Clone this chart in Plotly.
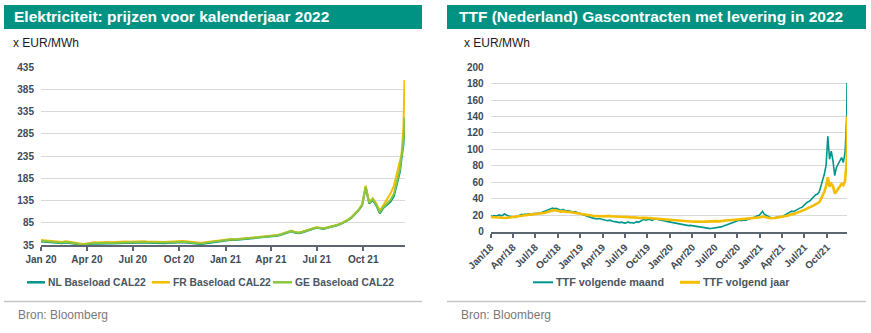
import pandas as pd
import plotly.graph_objects as go

W, H = 871, 333

# ---------------- Data: left chart (Elektriciteit CAL22, EUR/MWh) ----------------
elec_dates = [d.strftime("%Y-%m-%d") for d in pd.date_range("2020-01-01", periods=102, freq="7D")] + \
    ["2021-12-13", "2021-12-16", "2021-12-20", "2021-12-22"]

nl_cal22 = [
    43.0, 42.6, 41.8, 41.0, 40.2, 39.4, 39.0, 40.6, 40.0, 38.6, 37.2, 35.4, 34.6,
    36.0, 37.6, 38.2, 37.8, 38.4, 38.0, 38.6, 38.2, 38.8, 39.2, 39.0, 39.6, 39.4,
    40.0, 40.6, 41.0, 40.4, 39.8, 39.4, 39.8, 40.2, 39.6, 39.2, 39.6, 40.2, 40.8,
    41.2, 41.0, 40.4, 39.6, 38.4, 37.6, 37.2, 38.0, 39.2, 40.6, 41.8, 42.6, 43.4, 44.6,
    46.0, 46.8, 46.2, 47.0, 47.6, 48.8, 48.0, 49.2, 50.0, 50.6, 51.4, 52.6, 54.0,
    54.6, 55.8, 58.0, 60.4, 62.8, 66.0, 62.6, 61.4, 63.2, 65.6, 67.8, 70.2, 73.6,
    72.4, 71.2, 73.0, 74.6, 76.4, 79.2, 82.4, 86.0, 90.8, 96.4, 104.2, 112.6, 124.0,
    164.0, 128.0, 136.0, 124.0, 106.0, 118.0, 124.0, 132.0, 145.0, 176.0,
    200.0, 228.0, 262.0, 318.0,
]
fr_cal22 = [
    46.0, 45.4, 44.6, 43.8, 43.0, 42.0, 41.6, 43.2, 42.6, 41.0, 39.6, 37.8, 37.0,
    38.6, 40.4, 41.0, 40.8, 41.4, 41.2, 41.6, 41.2, 41.8, 42.2, 42.0, 42.6, 42.4,
    43.0, 43.6, 44.0, 43.4, 42.8, 42.4, 42.6, 43.0, 42.4, 42.0, 42.4, 43.2, 43.8,
    44.2, 44.0, 43.4, 42.6, 41.2, 40.2, 39.8, 40.6, 41.6, 42.8, 44.0, 44.6, 45.4, 46.4,
    47.6, 48.4, 47.8, 48.6, 49.2, 50.4, 49.6, 50.6, 51.4, 52.0, 52.8, 54.0, 55.4,
    56.0, 57.2, 59.4, 61.8, 64.2, 67.2, 64.0, 63.0, 64.8, 67.0, 69.2, 71.6, 75.0,
    73.8, 72.6, 74.4, 76.0, 77.8, 80.6, 83.8, 87.4, 92.2, 98.0, 106.0, 114.4, 126.2,
    168.0, 131.0, 140.0, 128.0, 112.0, 124.0, 138.0, 150.0, 168.0, 200.0,
    218.0, 238.0, 300.0, 406.0,
]
ge_cal22 = [
    44.5, 44.0, 43.2, 42.4, 41.6, 40.8, 40.2, 41.8, 41.2, 39.8, 38.4, 36.6, 35.8,
    37.2, 38.8, 39.4, 39.0, 39.6, 39.2, 39.8, 39.4, 40.0, 40.4, 40.2, 40.8, 40.6,
    41.2, 41.8, 42.2, 41.6, 41.0, 40.6, 41.0, 41.4, 40.8, 40.4, 40.8, 41.4, 42.0,
    42.4, 42.2, 41.6, 40.8, 39.6, 38.8, 38.4, 39.2, 40.4, 41.8, 43.0, 43.8, 44.6, 45.8,
    47.0, 47.8, 47.2, 48.0, 48.6, 49.8, 49.0, 50.2, 51.0, 51.6, 52.4, 53.6, 55.0,
    55.6, 56.8, 59.0, 61.4, 63.8, 67.0, 63.4, 62.4, 64.2, 66.4, 68.6, 71.0, 74.4,
    73.2, 72.0, 73.8, 75.4, 77.2, 80.0, 83.2, 86.8, 91.6, 97.2, 105.0, 113.4, 125.0,
    166.0, 130.0, 138.0, 126.0, 109.0, 120.0, 128.0, 136.0, 150.0, 182.0,
    206.0, 234.0, 270.0, 322.0,
]
elec_names = ["NL Baseload CAL22", "FR Baseload CAL22", "GE Baseload CAL22"]
elec_tickvals = ["2020-01-01", "2020-04-01", "2020-07-01", "2020-10-01",
                 "2021-01-01", "2021-04-01", "2021-07-01", "2021-10-01"]
elec_ticktext = ["Jan 20", "Apr 20", "Jul 20", "Oct 20", "Jan 21", "Apr 21", "Jul 21", "Oct 21"]
elec_yticks = [35, 85, 135, 185, 235, 285, 335, 385, 435]

# ---------------- Data: right chart (TTF gas, EUR/MWh) ----------------
ttf_dates = [d.strftime("%Y-%m-%d") for d in pd.date_range("2018-01-01", periods=208, freq="7D")] + ["2021-12-21"]

ttf_month = [
    # 2018
    19.0, 18.6, 19.4, 18.8, 19.6, 20.2, 19.1, 19.8, 21.5, 20.0, 19.2, 18.5, 18.1,
    17.8, 17.2, 18.0, 19.2, 20.1, 21.0, 20.4, 21.2, 20.8, 21.5, 21.0, 20.6, 21.8,
    22.0, 22.4, 21.8, 22.6, 23.4, 24.2, 25.0, 25.8, 26.5, 27.2, 28.6, 27.8, 28.2,
    27.5, 26.4, 25.6, 26.8, 25.2, 24.6, 25.4, 24.8, 24.0, 23.6, 24.2, 23.0, 22.6,
    # 2019
    21.8, 20.6, 20.0, 19.5, 19.0, 18.2, 17.2, 16.6, 16.0, 15.6, 15.2, 15.8, 15.4,
    14.6, 14.2, 13.6, 13.2, 13.8, 12.8, 12.4, 12.0, 11.6, 11.2, 10.8, 11.4, 10.6,
    10.2, 10.8, 11.6, 10.4, 11.0, 10.2, 11.4, 12.0, 11.2, 12.2, 13.6, 14.8, 13.8,
    14.2, 15.0, 14.4, 13.6, 14.8, 15.4, 14.6, 14.0, 13.8, 13.2, 12.6, 12.4, 12.0,
    # 2020
    11.6, 11.0, 10.4, 9.8, 9.6, 9.2, 8.8, 8.4, 8.6, 8.0, 7.6, 7.2, 7.4,
    7.0, 6.6, 6.2, 5.8, 5.4, 5.0, 4.8, 4.6, 4.2, 4.0, 3.8, 3.6, 3.9,
    4.2, 4.8, 4.4, 5.0, 5.6, 6.4, 7.2, 8.0, 9.0, 10.2, 11.0, 11.6, 12.2,
    12.8, 13.4, 13.8, 13.2, 14.0, 13.6, 14.2, 14.8, 15.6, 16.4, 17.2, 18.0, 19.2,
    # 2021
    19.6, 22.0, 24.6, 21.2, 19.8, 18.6, 17.6, 16.8, 16.2, 16.6, 17.2, 17.8, 18.2, 17.6,
    18.8, 19.6, 20.4, 21.8, 23.6, 24.8, 24.2, 25.6, 26.8, 27.6, 28.8, 29.6, 31.2,
    33.8, 35.6, 36.4, 38.2, 40.6, 42.4, 44.8, 45.6, 48.2, 55.4, 62.6, 70.2, 80.8,
    116.0, 88.0, 98.0, 86.0, 68.0, 78.0, 82.0, 86.0, 90.0, 84.0, 96.0, 140.0,
    181.0,
]
ttf_year = [
    # 2018
    17.6, 17.4, 17.8, 17.2, 17.0, 16.8, 16.4, 16.2, 16.6, 16.4, 16.8, 17.0, 17.2,
    17.4, 17.6, 18.0, 18.4, 18.8, 19.2, 19.6, 20.0, 20.4, 20.8, 21.0, 20.8, 21.2,
    21.4, 21.6, 21.4, 21.8, 22.2, 22.6, 23.2, 23.8, 24.4, 25.0, 25.8, 26.2, 25.6,
    25.2, 24.6, 24.2, 24.8, 24.2, 23.8, 24.0, 23.6, 23.2, 22.8, 22.6, 22.0, 21.6,
    # 2019
    21.2, 20.8, 20.6, 20.2, 20.0, 19.6, 19.2, 19.0, 18.8, 18.6, 18.8, 19.0, 18.8,
    18.6, 18.4, 18.8, 18.6, 19.0, 18.6, 18.4, 18.2, 18.0, 17.8, 18.2, 17.8, 17.6,
    17.6, 17.8, 17.4, 17.2, 17.0, 17.2, 16.8, 16.6, 16.8, 16.4, 16.6, 17.0, 16.8,
    16.6, 16.8, 16.4, 16.0, 16.2, 15.8, 15.6, 15.4, 15.2, 15.0, 14.8, 14.6, 14.4,
    # 2020
    14.2, 14.0, 13.6, 13.4, 13.2, 13.0, 12.8, 12.6, 12.8, 12.4, 12.2, 12.0, 12.2,
    12.0, 11.8, 12.0, 11.8, 11.6, 11.8, 12.0, 11.8, 12.0, 12.2, 12.0, 12.2, 12.4,
    12.2, 12.4, 12.6, 12.4, 12.8, 13.0, 13.2, 13.4, 13.6, 13.8, 14.0, 14.2, 14.4,
    14.6, 14.8, 14.6, 14.4, 14.8, 15.0, 15.2, 15.4, 15.6, 15.8, 16.0, 16.2, 16.4,
    # 2021
    16.8, 17.4, 18.2, 17.6, 17.2, 16.8, 16.4, 16.2, 16.0, 16.4, 16.8, 17.2, 17.4, 17.2,
    17.8, 18.2, 18.6, 19.4, 20.4, 21.2, 21.0, 21.8, 22.6, 23.2, 24.0, 24.6, 25.6,
    27.0, 28.2, 28.8, 29.6, 30.8, 32.2, 33.6, 34.2, 35.6, 39.4, 43.6, 48.8, 55.2,
    66.0, 54.6, 58.2, 55.0, 46.2, 48.8, 52.4, 55.6, 58.0, 56.4, 62.0, 86.0,
    140.0,
]
ttf_names = ["TTF volgende maand", "TTF volgend jaar"]
ttf_tickvals = [f"{y}-{m:02d}-01" for y in (2018, 2019, 2020, 2021) for m in (1, 4, 7, 10)]
ttf_ticktext = [f"{mn}/{str(y)[2:]}" for y in (2018, 2019, 2020, 2021) for mn in ("Jan", "Apr", "Jul", "Oct")]
ttf_yticks = list(range(0, 201, 20))

titles = ["Elektriciteit: prijzen voor kalenderjaar 2022",
          "TTF (Nederland) Gascontracten met levering in 2022"]
unit_label = "x EUR/MWh"
source_label = "Bron: Bloomberg"

# ---------------- Styling ----------------
TEAL = "#00968a"
YELLOW = "#f5bd00"
GREEN = "#8cc63f"
BAR = "#009383"
FONT = "Liberation Sans, Arial, sans-serif"
TICKCOL = "#3f4a54"
AXISCOL = "#5b6670"
GRIDCOL = "#d9d9d9"


def px(x):
    return x / W


def py(y):
    return 1 - y / H


fig = go.Figure()

elec_series = [nl_cal22, fr_cal22, ge_cal22]
elec_colors = [TEAL, YELLOW, GREEN]
for name, vals, col in zip(elec_names, elec_series, elec_colors):
    fig.add_trace(go.Scatter(x=elec_dates, y=vals, name=name, mode="lines",
                             line=dict(color=col, width=2), xaxis="x", yaxis="y",
                             showlegend=False))

ttf_series = [ttf_month, ttf_year]
ttf_colors = [TEAL, YELLOW]
ttf_widths = [1.6, 2.6]
for name, vals, col, w in zip(ttf_names, ttf_series, ttf_colors, ttf_widths):
    fig.add_trace(go.Scatter(x=ttf_dates, y=vals, name=name, mode="lines",
                             line=dict(color=col, width=w), xaxis="x2", yaxis="y2",
                             showlegend=False))

tickfont = dict(family=FONT, size=10, color=TICKCOL, weight="bold")

fig.update_layout(
    template=go.layout.Template(),
    width=W, height=H, margin=dict(l=0, r=0, t=0, b=0, pad=0),
    paper_bgcolor="white", plot_bgcolor="white",
    font=dict(family=FONT),
    xaxis=dict(domain=[px(41), px(405)], type="date",
               range=["2020-01-01", "2021-12-23"],
               tickvals=elec_tickvals, ticktext=elec_ticktext, automargin=False,
               showgrid=False, zeroline=False, showline=True, linecolor=AXISCOL, linewidth=2,
               ticks="outside", ticklen=4, tickwidth=1.5, tickcolor=AXISCOL,
               tickfont=tickfont, anchor="y", fixedrange=True),
    yaxis=dict(domain=[py(245), py(67)], range=[35, 435], tickvals=elec_yticks, automargin=False,
               showgrid=True, gridcolor=GRIDCOL, gridwidth=1, zeroline=False,
               showline=False, ticks="", tickfont=tickfont, ticklabelstandoff=6,
               anchor="x", fixedrange=True),
    xaxis2=dict(domain=[px(490.7), px(847)], type="date",
                range=["2018-01-01", "2021-12-21"], automargin=False,
                tickvals=ttf_tickvals, ticktext=ttf_ticktext, tickangle=-45,
                showgrid=False, zeroline=False, showline=True, linecolor=AXISCOL, linewidth=2,
                ticks="outside", ticklen=4, tickwidth=1.5, tickcolor=AXISCOL,
                tickfont=tickfont, anchor="y2", fixedrange=True),
    yaxis2=dict(domain=[py(231.5), py(67.3)], range=[0, 200], tickvals=ttf_yticks, automargin=False,
                showgrid=True, gridcolor=GRIDCOL, gridwidth=1, zeroline=False,
                showline=False, ticks="", tickfont=tickfont, ticklabelstandoff=6,
                anchor="x2", fixedrange=True),
)

shapes = []
annotations = []

# Title bars
for (x0, x1), title, tx in zip([(4, 422), (447, 866)], titles, [12, 457]):
    shapes.append(dict(type="rect", xref="paper", yref="paper", x0=px(x0), x1=px(x1),
                       y0=py(29), y1=py(5), fillcolor=BAR, line=dict(width=0), layer="below"))
    annotations.append(dict(text=f"<b>{title}</b>", xref="paper", yref="paper", x=px(tx), y=py(17),
                            xanchor="left", yanchor="middle", showarrow=False,
                            font=dict(family=FONT, size=15.5, color="white")))

# Unit labels
for ux in (11, 462):
    annotations.append(dict(text=unit_label, xref="paper", yref="paper", x=px(ux), y=py(43),
                            xanchor="left", yanchor="middle", showarrow=False,
                            font=dict(family=FONT, size=12, color="#1a1a1a")))

# Separators and sources
for (x0, x1), sx in zip([(4, 422), (447, 866)], [16, 459]):
    shapes.append(dict(type="line", xref="paper", yref="paper", x0=px(x0), x1=px(x1),
                       y0=py(301.5), y1=py(301.5), line=dict(color="#c6c6c6", width=1.5)))
    annotations.append(dict(text=source_label, xref="paper", yref="paper", x=px(sx), y=py(314.5),
                            xanchor="left", yanchor="middle", showarrow=False,
                            font=dict(family=FONT, size=12, color="#7a7a7a")))

# Manual legends
legend_items = [
    (elec_names[0], TEAL, 27, 45, 2.5, 10.3),
    (elec_names[1], YELLOW, 152, 170, 2.5, 10.3),
    (elec_names[2], GREEN, 273, 292, 2.5, 10.3),
    (ttf_names[0], TEAL, 533, 553, 2.0, 10.8),
    (ttf_names[1], YELLOW, 680, 700, 3.0, 10.8),
]
for name, col, lx0, lx1, lw, fs in legend_items:
    shapes.append(dict(type="line", xref="paper", yref="paper", x0=px(lx0), x1=px(lx1),
                       y0=py(282.3), y1=py(282.3), line=dict(color=col, width=lw)))
    annotations.append(dict(text=f"<b>{name}</b>", xref="paper", yref="paper", x=px(lx1 + 1), y=py(282.3),
                            xanchor="left", yanchor="middle", showarrow=False,
                            font=dict(family=FONT, size=fs, color="#4a5560")))

fig.update_layout(shapes=shapes, annotations=annotations)

fig.write_html("out.html")
